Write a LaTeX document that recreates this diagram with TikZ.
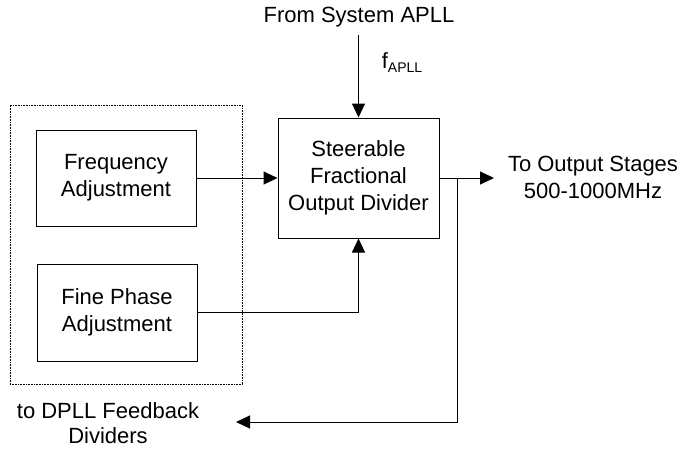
\documentclass[tikz,border=0pt]{standalone}
\usepackage{fontspec}
\setmainfont{Liberation Sans}
\usetikzlibrary{arrows.meta}
\begin{document}
\begin{tikzpicture}[x=1pt,y=-1pt,
  every node/.style={font=\fontsize{22}{27}\selectfont},
  blockbox/.style={draw,line width=1pt,inner sep=0pt,align=center},
  groupbox/.style={draw,line width=1pt,dash pattern=on 0.8pt off 0.8pt,inner sep=0pt},
  lbl/.style={inner sep=0pt,align=center},
  conn/.style={line width=1pt},
  arr/.style={line width=1pt,-{Triangle[length=14pt,width=13pt]}}]
\useasboundingbox (0,0) rectangle (683,448);
\node[groupbox,minimum width=232pt,minimum height=279pt] (grp) at (126,244.5) {};
\node[blockbox,minimum width=160pt,minimum height=96pt] (freq) at (116,178) {Frequency\\Adjustment};
\node[blockbox,minimum width=160pt,minimum height=97pt] (fine) at (117,312.5) {Fine Phase\\Adjustment};
\node[blockbox,minimum width=161pt,minimum height=120pt] (steer) at (358.5,178) {Steerable\\Fractional\\Output Divider};
\node[lbl] (from) at (359,17) {From System APLL};
\node[lbl] (fapll) at (402,63) {f\raisebox{-0.35ex}{\fontsize{14}{14}\selectfont APLL}};
\node[lbl] (tout) at (593,177) {To Output Stages\\500-1000MHz};
\node[lbl,font=\fontsize{22}{25}\selectfont] (tdpll) at (108,423) {to DPLL Feedback\\Dividers};
\coordinate (in) at (358.5,35);
\coordinate (out) at (494,178);
\coordinate (br) at (457,178);
\coordinate (brd) at (457,422);
\coordinate (fb) at (236,422);
\draw[arr] (in) -- (steer.north);
\draw[arr] (freq.east) -- (steer.west);
\draw[arr] (fine.east) -| (steer.south);
\draw[arr] (steer.east) -- (out);
\draw[arr] (br) -- (brd) -- (fb);
\end{tikzpicture}
\end{document}
